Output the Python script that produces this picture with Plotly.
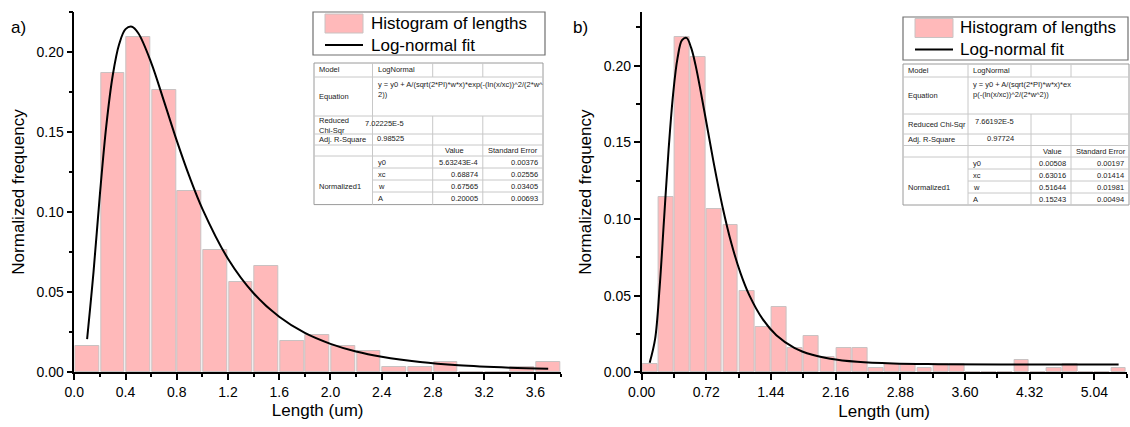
import plotly.graph_objects as go

W, H = 1130, 427
FONT = "Arial, Liberation Sans, sans-serif"

# ---------------- Panel a) data ----------------
a_bin_width = 0.2
a_centers = [0.1, 0.3, 0.5, 0.7, 0.9, 1.1, 1.3, 1.5, 1.7, 1.9, 2.1, 2.3, 2.5, 2.7, 2.9, 3.1, 3.3, 3.5, 3.7]
a_freq = [0.0165, 0.187, 0.2095, 0.176, 0.113, 0.0762, 0.0565, 0.066, 0.0196, 0.023,
          0.0165, 0.013, 0.003, 0.003, 0.0063, 0.0, 0.0, 0.003, 0.0063]
a_fit_x = [0.1, 0.15, 0.2, 0.25, 0.3, 0.35, 0.4, 0.45, 0.5, 0.6, 0.7, 0.8, 0.9, 1.0, 1.2,
           1.4, 1.6, 1.8, 2.0, 2.2, 2.4, 2.7, 3.0, 3.4, 3.7]
a_fit_y = [0.0206, 0.0624, 0.1112, 0.1540, 0.1853, 0.2048, 0.2143, 0.2158, 0.2117, 0.1934,
           0.1693, 0.1446, 0.1219, 0.1020, 0.0708, 0.0492, 0.0345, 0.0244, 0.0176, 0.0128,
           0.0095, 0.0062, 0.0042, 0.0027, 0.0020]
a_xticks = ["0.0", "0.4", "0.8", "1.2", "1.6", "2.0", "2.4", "2.8", "3.2", "3.6"]
a_eq = ["y = y0 + A/(sqrt(2*PI)*w*x)*exp(-(ln(x/xc))^2/(2*w^", "2))"]
a_chi_label = ["Reduced", "Chi-Sqr"]
a_chi = "7.02225E-5"
a_adj = "0.98525"
a_params = ["y0", "xc", "w", "A"]
a_values = ["5.63243E-4", "0.68874", "0.67565", "0.20005"]
a_errors = ["0.00376", "0.02556", "0.03405", "0.00693"]

# ---------------- Panel b) data ----------------
b_bin_width = 0.18
b_centers = [0.09, 0.27, 0.45, 0.63, 0.81, 0.99, 1.17, 1.35, 1.53, 1.71, 1.89, 2.07, 2.25, 2.43, 2.61,
             2.79, 2.97, 3.15, 3.33, 3.51, 3.69, 3.87, 4.05, 4.23, 4.41, 4.59, 4.77, 4.95, 5.13, 5.31]
b_freq = [0.0052, 0.1146, 0.2189, 0.2054, 0.1065, 0.0959, 0.0533, 0.0293, 0.0426, 0.0157,
          0.0237, 0.0102, 0.0157, 0.0157, 0.0026, 0.0052, 0.0052, 0.0026, 0.0052, 0.0052,
          0.0, 0.0, 0.0, 0.0080, 0.0, 0.0026, 0.0052, 0.0, 0.0, 0.0026]
b_fit_x = [0.09, 0.15, 0.2, 0.25, 0.3, 0.35, 0.4, 0.45, 0.5, 0.55, 0.6, 0.7, 0.8, 0.9, 1.0,
           1.1, 1.2, 1.35, 1.5, 1.7, 1.9, 2.1, 2.4, 2.8, 3.3, 4.0, 5.31]
b_fit_y = [0.0062, 0.0216, 0.0549, 0.1000, 0.1448, 0.1810, 0.2049, 0.2166, 0.2181, 0.2119,
           0.2005, 0.1698, 0.1374, 0.1082, 0.0840, 0.0649, 0.0502, 0.0345, 0.0242, 0.0160,
           0.0114, 0.0088, 0.0068, 0.0057, 0.0053, 0.0051, 0.0051]
b_xticks = ["0.00", "0.72", "1.44", "2.16", "2.88", "3.60", "4.32", "5.04"]
b_eq = ["y = y0 + A/(sqrt(2*PI)*w*x)*ex", "p(-(ln(x/xc))^2/(2*w^2))"]
b_chi_label = ["Reduced Chi-Sqr"]
b_chi = "7.66192E-5"
b_adj = "0.97724"
b_params = ["y0", "xc", "w", "A"]
b_values = ["0.00508", "0.63016", "0.51644", "0.15243"]
b_errors = ["0.00197", "0.01414", "0.01981", "0.00494"]

legend_labels = ["Histogram of lengths", "Log-normal fit"]
y_ticks = ["0.00", "0.05", "0.10", "0.15", "0.20"]

BAR_FILL = "#FFB9BA"
BAR_EDGE = "#C9C2C2"


def fx(x):
    return x / W


def fy(y):
    return 1 - y / H


fig = go.Figure()

fig.add_trace(go.Bar(x=a_centers, y=a_freq, width=a_bin_width * 0.93, name=legend_labels[0],
                     marker=dict(color=BAR_FILL, line=dict(color=BAR_EDGE, width=1)),
                     xaxis="x", yaxis="y", showlegend=False))
fig.add_trace(go.Scatter(x=a_fit_x, y=a_fit_y, mode="lines", name=legend_labels[1],
                         line=dict(color="black", width=2, shape="spline", smoothing=1.0),
                         xaxis="x", yaxis="y", showlegend=False))
fig.add_trace(go.Bar(x=b_centers, y=b_freq, width=b_bin_width * 0.92, name=legend_labels[0],
                     marker=dict(color=BAR_FILL, line=dict(color=BAR_EDGE, width=1)),
                     xaxis="x2", yaxis="y2", showlegend=False))
fig.add_trace(go.Scatter(x=b_fit_x, y=b_fit_y, mode="lines", name=legend_labels[1],
                         line=dict(color="black", width=2, shape="spline", smoothing=1.0),
                         xaxis="x2", yaxis="y2", showlegend=False))

axis_common = dict(showline=True, linecolor="black", linewidth=1.5, ticks="outside", ticklen=6,
                   tickwidth=1.5, tickcolor="black", showgrid=False, zeroline=False, automargin=False,
                   tickfont=dict(family=FONT, size=14, color="black"))

fig.update_layout(
    width=W, height=H, autosize=False,
    margin=dict(l=0, r=0, t=0, b=0, pad=0),
    paper_bgcolor="white", plot_bgcolor="white",
    bargap=0, barmode="overlay",
    xaxis=dict(domain=[fx(74.3), fx(561)], range=[0, 3.8], anchor="y",
               tickvals=[float(t) for t in a_xticks], ticktext=a_xticks,
               minor=dict(ticks="outside", ticklen=3.5, tickwidth=1.5, tickcolor="black", dtick=0.2, tick0=0),
               title=dict(text="Length (um)", font=dict(family=FONT, size=17, color="black"), standoff=6),
               **axis_common),
    yaxis=dict(domain=[fy(372), fy(12)], range=[0, 0.225], anchor="x",
               tickvals=[float(t) for t in y_ticks], ticktext=y_ticks,
               minor=dict(ticks="outside", ticklen=3.5, tickwidth=1.5, tickcolor="black", dtick=0.025, tick0=0),
               title=dict(text="Normalized frequency", font=dict(family=FONT, size=17, color="black"), standoff=8),
               **axis_common),
    xaxis2=dict(domain=[fx(641.6), fx(1126.7)], range=[0, 5.4], anchor="y2",
                tickvals=[float(t) for t in b_xticks], ticktext=b_xticks,
                minor=dict(ticks="outside", ticklen=3.5, tickwidth=1.5, tickcolor="black", dtick=0.36, tick0=0),
                title=dict(text="Length (um)", font=dict(family=FONT, size=17, color="black"), standoff=6),
                **axis_common),
    yaxis2=dict(domain=[fy(372.3), fy(12)], range=[0, 0.235], anchor="x2",
                tickvals=[float(t) for t in y_ticks], ticktext=y_ticks,
                minor=dict(ticks="outside", ticklen=3.5, tickwidth=1.5, tickcolor="black", dtick=0.025, tick0=0),
                title=dict(text="Normalized frequency", font=dict(family=FONT, size=17, color="black"), standoff=8),
                **axis_common),
)

shapes = []
annotations = []


def line(x0, y0, x1, y1, color="#C8C8C8", width=1):
    shapes.append(dict(type="line", xref="paper", yref="paper", x0=fx(x0), y0=fy(y0), x1=fx(x1), y1=fy(y1),
                       line=dict(color=color, width=width)))


def text(x, y, s, size=7.5, xanchor="left", yanchor="middle", color="#222"):
    annotations.append(dict(xref="paper", yref="paper", x=fx(x), y=fy(y), text=s, showarrow=False,
                            xanchor=xanchor, yanchor=yanchor, align="left",
                            font=dict(family=FONT, size=size, color=color)))


def draw_legend(x0, y0, x1, y1, sw_x0, sw_x1, row1, row2, tx):
    shapes.append(dict(type="rect", xref="paper", yref="paper", x0=fx(x0), y0=fy(y1), x1=fx(x1), y1=fy(y0),
                       fillcolor="white", line=dict(color="#707070", width=1.2)))
    shapes.append(dict(type="rect", xref="paper", yref="paper", x0=fx(sw_x0), y0=fy(row1 + 9.5),
                       x1=fx(sw_x1), y1=fy(row1 - 9.5), fillcolor=BAR_FILL, line=dict(color=BAR_EDGE, width=1)))
    line(sw_x0, row2, sw_x1, row2, color="black", width=2)
    text(tx, row1, legend_labels[0], size=17, color="black")
    text(tx, row2, legend_labels[1], size=17, color="black")


def draw_table(cols, rows, eq, chi_label, chi, adj, params, values, errors, chi_x):
    x0, x4 = cols[0], cols[-1]
    top, bot = rows[0], rows[-1]
    shapes.append(dict(type="rect", xref="paper", yref="paper", x0=fx(x0), y0=fy(bot), x1=fx(x4), y1=fy(top),
                       fillcolor="white", line=dict(color="#9A9A9A", width=1)))
    for i in range(1, len(rows) - 1):
        if i >= 6:
            line(cols[1], rows[i], x4, rows[i])
        else:
            line(x0, rows[i], x4, rows[i])
    line(cols[1], top, cols[1], bot)
    for c in (cols[2], cols[3]):
        line(c, top, c, rows[1])
        line(c, rows[2], c, bot)
    pad = 3
    cy = [(rows[i] + rows[i + 1]) / 2 for i in range(len(rows) - 1)]
    text(x0 + pad, cy[0], "Model")
    text(cols[1] + pad, cy[0], "LogNormal")
    text(x0 + pad, cy[1], "Equation")
    text(cols[1] + pad, rows[1] + 1.5, "<br>".join(eq), yanchor="top")
    text(x0 + pad, cy[2], "<br>".join(chi_label))
    text(chi_x, rows[2] + 1.5, chi, xanchor="right", yanchor="top")
    text(x0 + pad, cy[3], "Adj. R-Square")
    text(chi_x, cy[3] - 1, adj, xanchor="right")
    text(cols[2] + 10, cy[4], "Value")
    text(cols[3] + pad, cy[4], "Standard Error")
    text(x0 + pad, (rows[5] + rows[9]) / 2 + 6, "Normalized1")
    for k in range(4):
        text(cols[1] + pad, cy[5 + k], params[k])
        text(cols[3] - pad, cy[5 + k], values[k], xanchor="right")
        text(x4 - pad, cy[5 + k], errors[k], xanchor="right")


draw_legend(313, 12, 545, 55, 325, 363, 23.5, 45, 369)
draw_legend(903, 17, 1128, 60, 915, 953, 28, 49.5, 958)

draw_table([314, 372.5, 432.7, 482.8, 543], [63, 77, 116, 134, 145, 156, 168, 180, 192, 204.6],
           a_eq, a_chi_label, a_chi, a_adj, a_params, a_values, a_errors, 406)
draw_table([903, 968, 1031, 1071, 1129], [64, 77, 114, 134, 145.5, 157, 169, 181, 193, 205],
           b_eq, b_chi_label, b_chi, b_adj, b_params, b_values, b_errors, 1016)

text(9, 28, "a)", size=17, color="black")
text(571, 28, "b)", size=17, color="black")

fig.update_layout(shapes=shapes, annotations=annotations)
fig.write_html("out.html", config={"displayModeBar": False},
               post_script="document.body.style.margin='0px';document.body.style.padding='0px';"
                           "document.body.style.overflow='hidden';")
